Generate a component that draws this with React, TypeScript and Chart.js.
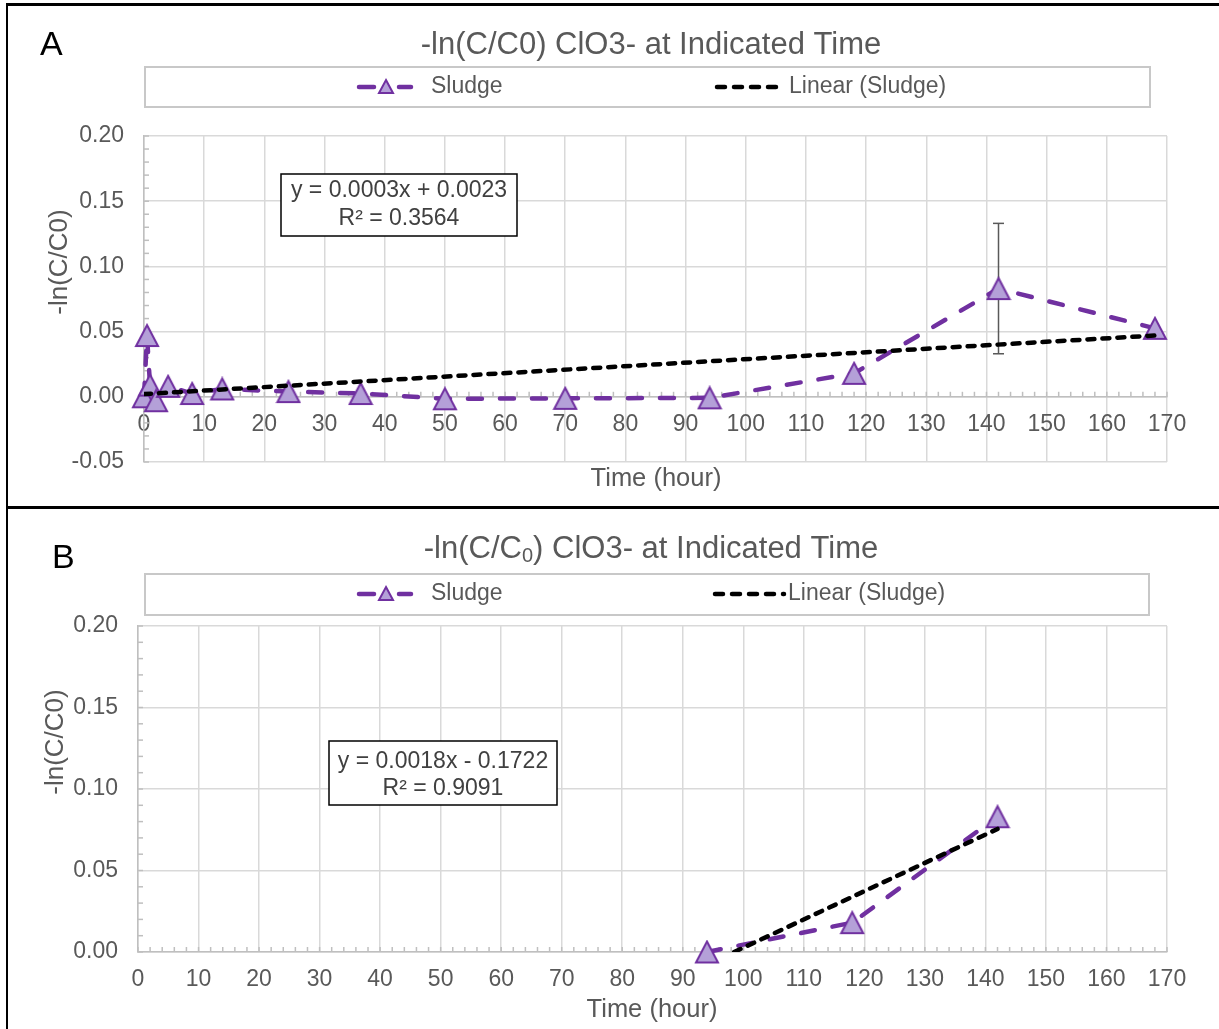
import React, { useEffect, useRef } from "react";
import { Chart, registerables } from "chart.js";

Chart.register(...registerables);

const FONT = '"Liberation Sans", Arial, Helvetica, sans-serif';
const INK = "#595959";
const PURPLE = "#7030A0";
const LILAC = "#B4A0D8";
const GRID = "#d9d9d9";
const AXIS = "#bfbfbf";

// ---------- Panel A data ----------
const timeA = [0, 0.5, 1, 2, 4, 8, 13, 24, 36, 50, 70, 94, 118, 142, 168];
const sludgeA = [0, 0.047, 0.009, -0.003, 0.008, 0.0025, 0.006, 0.004, 0.0025, -0.0015, -0.0012, -0.0008, 0.018, 0.083, 0.0525];
const errA = [0, 0, 0, 0, 0, 0, 0, 0, 0, 0, 0, 0, 0, 0.05, 0];
const trendTimeA = [0, 168];
const trendA = [0.0021, 0.047];
const eqA = ["y = 0.0003x + 0.0023", "R\u00B2 = 0.3564"];
const yTicksA = [-0.05, 0.0, 0.05, 0.1, 0.15, 0.2];

// ---------- Panel B data ----------
const timeB = [94, 118, 142];
const sludgeB = [0, 0.018, 0.083];
const errB = [0, 0, 0];
const trendTimeB = [94, 142];
const trendB = [-0.0078, 0.0755];
const eqB = ["y = 0.0018x - 0.1722", "R\u00B2 = 0.9091"];
const yTicksB = [0.0, 0.05, 0.1, 0.15, 0.2];

const xTicks = [0, 10, 20, 30, 40, 50, 60, 70, 80, 90, 100, 110, 120, 130, 140, 150, 160, 170];

const seriesName = "Sludge";
const trendName = "Linear (Sludge)";
const xTitle = "Time (hour)";
const yTitle = "-ln(C/C0)";

function makeTriangle(w: number, h: number, lw: number) {
  const c = document.createElement("canvas");
  c.width = Math.round(w + lw * 2);
  c.height = Math.round(h + lw * 2);
  const ctx = c.getContext("2d")!;
  ctx.beginPath();
  ctx.moveTo(c.width / 2, lw);
  ctx.lineTo(c.width - lw, c.height - lw);
  ctx.lineTo(lw, c.height - lw);
  ctx.closePath();
  ctx.fillStyle = LILAC;
  ctx.fill();
  ctx.lineWidth = lw;
  ctx.strokeStyle = PURPLE;
  ctx.lineJoin = "miter";
  ctx.stroke();
  return c;
}

type TitlePart = { text: string; sub?: boolean };
type Layout = {
  letter: string; letterX: number; letterY: number;
  title: TitlePart[]; titleX: number; titleY: number;
  legBox: [number, number, number, number]; legY: number;
  s1: [number, number]; s1Text: number; s2: [number, number]; s2Text: number;
  yTitleX: number; yTitleY: number; xTitleX: number; xTitleY: number;
  eqBox: [number, number, number, number]; eqLines: string[]; eqY: [number, number];
  padTop: number; padRight: number; padBottom: number; yAxisW: number;
  yMin: number; yMax: number; yTicks: number[];
};

function decorPlugin(L: Layout, times: number[], vals: number[], errs: number[]) {
  const line = (ctx: CanvasRenderingContext2D, a: number, b: number, c: number, d: number) => {
    ctx.beginPath();
    ctx.moveTo(a, b);
    ctx.lineTo(c, d);
    ctx.stroke();
  };
  return {
    id: "decor",
    beforeDatasetsDraw(chart: any) {
      const ctx: CanvasRenderingContext2D = chart.ctx;
      const xs = chart.scales.x;
      const ys = chart.scales.y;
      ctx.save();
      ctx.strokeStyle = AXIS;
      ctx.lineWidth = 1.5;
      const y0 = ys.getPixelForValue(0);
      for (let v = 0; v <= 170; v += 2) {
        const px = xs.getPixelForValue(v);
        line(ctx, px, y0, px, y0 - 5);
      }
      const x0 = xs.getPixelForValue(0);
      for (let k = Math.round(L.yMin * 100); k <= Math.round(L.yMax * 100); k++) {
        const py = ys.getPixelForValue(k / 100);
        line(ctx, x0, py, x0 + 5, py);
      }
      ctx.strokeStyle = INK;
      ctx.lineWidth = 1.5;
      times.forEach((t, i) => {
        const e = errs[i];
        if (!e) return;
        const px = xs.getPixelForValue(t);
        const top = ys.getPixelForValue(vals[i] + e);
        const bot = ys.getPixelForValue(vals[i] - e);
        line(ctx, px, top, px, bot);
        line(ctx, px - 5.5, top, px + 5.5, top);
        line(ctx, px - 5.5, bot, px + 5.5, bot);
      });
      ctx.restore();
    },
    afterDraw(chart: any) {
      const ctx: CanvasRenderingContext2D = chart.ctx;
      ctx.save();
      // panel letter
      ctx.fillStyle = "#000";
      ctx.font = `34px ${FONT}`;
      ctx.textAlign = "left";
      ctx.textBaseline = "middle";
      ctx.fillText(L.letter, L.letterX, L.letterY);
      // title with optional subscript
      const big = `31px ${FONT}`;
      const small = `20px ${FONT}`;
      let total = 0;
      for (const p of L.title) {
        ctx.font = p.sub ? small : big;
        total += ctx.measureText(p.text).width;
      }
      let cx = L.titleX - total / 2;
      ctx.fillStyle = INK;
      for (const p of L.title) {
        ctx.font = p.sub ? small : big;
        ctx.fillText(p.text, cx, L.titleY + (p.sub ? 7 : 0));
        cx += ctx.measureText(p.text).width;
      }
      // legend box
      ctx.strokeStyle = "#c8c8c8";
      ctx.lineWidth = 2;
      const [bx1, by1, bx2, by2] = L.legBox;
      ctx.strokeRect(bx1, by1, bx2 - bx1, by2 - by1);
      // sludge sample
      ctx.strokeStyle = PURPLE;
      ctx.lineWidth = 4.5;
      ctx.lineCap = "round";
      line(ctx, L.s1[0] + 2, L.legY, L.s1[0] + 17, L.legY);
      line(ctx, L.s1[1] - 14, L.legY, L.s1[1] - 2, L.legY);
      const mid = (L.s1[0] + L.s1[1]) / 2 + 1;
      ctx.beginPath();
      ctx.moveTo(mid, L.legY - 7);
      ctx.lineTo(mid + 7, L.legY + 6);
      ctx.lineTo(mid - 7, L.legY + 6);
      ctx.closePath();
      ctx.fillStyle = LILAC;
      ctx.fill();
      ctx.lineWidth = 2;
      ctx.lineCap = "butt";
      ctx.stroke();
      // trend sample
      ctx.strokeStyle = "#000";
      ctx.lineWidth = 4.5;
      ctx.lineCap = "round";
      ctx.setLineDash([8, 9]);
      line(ctx, L.s2[0] + 2, L.legY, L.s2[1] - 2, L.legY);
      ctx.setLineDash([]);
      ctx.lineCap = "butt";
      ctx.font = `23px ${FONT}`;
      ctx.fillStyle = INK;
      ctx.textBaseline = "middle";
      ctx.fillText(seriesName, L.s1Text, L.legY);
      ctx.fillText(trendName, L.s2Text, L.legY);
      // axis titles
      ctx.font = `25.5px ${FONT}`;
      ctx.textAlign = "center";
      ctx.fillText(xTitle, L.xTitleX, L.xTitleY);
      ctx.save();
      ctx.translate(L.yTitleX, L.yTitleY);
      ctx.rotate(-Math.PI / 2);
      ctx.font = `26px ${FONT}`;
      ctx.fillText(yTitle, 0, 0);
      ctx.restore();
      // equation box
      const [ex1, ey1, ex2, ey2] = L.eqBox;
      ctx.fillStyle = "#fff";
      ctx.fillRect(ex1, ey1, ex2 - ex1, ey2 - ey1);
      ctx.strokeStyle = "#000";
      ctx.lineWidth = 1.5;
      ctx.strokeRect(ex1, ey1, ex2 - ex1, ey2 - ey1);
      ctx.fillStyle = "#404040";
      ctx.font = `23px ${FONT}`;
      ctx.fillText(L.eqLines[0], (ex1 + ex2) / 2, L.eqY[0]);
      ctx.fillText(L.eqLines[1], (ex1 + ex2) / 2, L.eqY[1]);
      ctx.restore();
    },
  };
}

function makeConfig(L: Layout, times: number[], vals: number[], errs: number[], tT: number[], tV: number[], marker: HTMLCanvasElement) {
  return {
    type: "scatter" as const,
    data: {
      datasets: [
        {
          label: trendName,
          data: tT.map((t, i) => ({ x: t, y: tV[i] })),
          showLine: true,
          borderColor: "#000",
          borderWidth: 4.5,
          borderDash: [7, 8],
          borderCapStyle: "round",
          pointRadius: 0,
          clip: 0,
        },
        {
          label: seriesName,
          data: times.map((t, i) => ({ x: t, y: vals[i] })),
          showLine: true,
          borderColor: PURPLE,
          borderWidth: 4.5,
          borderDash: [14, 18],
          borderCapStyle: "round",
          pointStyle: marker,
          pointRadius: 12,
          clip: false,
        },
      ],
    },
    options: {
      animation: false,
      responsive: false,
      devicePixelRatio: 1,
      events: [],
      layout: { padding: { top: L.padTop, right: L.padRight, bottom: L.padBottom, left: 0 } },
      plugins: { legend: { display: false }, title: { display: false }, tooltip: { enabled: false } },
      scales: {
        x: {
          type: "linear",
          position: { y: 0 },
          min: 0,
          max: 170,
          afterBuildTicks: (s: any) => {
            s.ticks = xTicks.map((v) => ({ value: v }));
          },
          ticks: {
            color: INK,
            font: { family: FONT, size: 23 },
            padding: 14,
            maxRotation: 0,
            autoSkip: false,
            callback: (v: any) => String(v),
          },
          grid: { color: GRID, lineWidth: 1.5, drawTicks: false },
          border: { color: AXIS, width: 1.5 },
        },
        y: {
          type: "linear",
          position: "left",
          min: L.yMin,
          max: L.yMax,
          afterBuildTicks: (s: any) => {
            s.ticks = L.yTicks.map((v) => ({ value: v }));
          },
          afterFit: (s: any) => {
            s.width = L.yAxisW;
          },
          ticks: {
            color: INK,
            font: { family: FONT, size: 23 },
            padding: 20,
            callback: (v: any) => Number(v).toFixed(2),
          },
          grid: { color: GRID, lineWidth: 1.5, drawTicks: false },
          border: { color: AXIS, width: 1.5 },
        },
      },
    },
    plugins: [decorPlugin(L, times, vals, errs)],
  };
}

const layoutA: Layout = {
  letter: "A", letterX: 32, letterY: 40,
  title: [{ text: "-ln(C/C0) ClO3- at Indicated Time" }], titleX: 643, titleY: 39,
  legBox: [137, 61, 1142, 101], legY: 81,
  s1: [349, 405], s1Text: 423, s2: [707, 779], s2Text: 781,
  yTitleX: 52, yTitleY: 256, xTitleX: 648, xTitleY: 473,
  eqBox: [273, 168, 509, 230], eqLines: eqA, eqY: [185, 213],
  padTop: 130, padRight: 52, padBottom: 44, yAxisW: 136,
  yMin: -0.05, yMax: 0.2, yTicks: yTicksA,
};

const layoutB: Layout = {
  letter: "B", letterX: 44, letterY: 50,
  title: [{ text: "-ln(C/C" }, { text: "0", sub: true }, { text: ") ClO3- at Indicated Time" }], titleX: 643, titleY: 40,
  legBox: [137, 65, 1141, 106], legY: 85,
  s1: [349, 405], s1Text: 423, s2: [705, 778], s2Text: 780,
  yTitleX: 48, yTitleY: 233, xTitleX: 644, xTitleY: 501,
  eqBox: [321, 232, 549, 296], eqLines: eqB, eqY: [253, 280],
  padTop: 117, padRight: 52, padBottom: 77, yAxisW: 130,
  yMin: 0, yMax: 0.2, yTicks: yTicksB,
};

function Panel({ L, times, vals, errs, tT, tV, top }: any) {
  const ref = useRef<HTMLCanvasElement>(null);
  useEffect(() => {
    const marker = makeTriangle(22, 21, 2);
    const chart = new Chart(ref.current!, makeConfig(L, times, vals, errs, tT, tV, marker) as any);
    return () => chart.destroy();
  }, []);
  return (
    <canvas
      ref={ref}
      width={1211}
      height={L === layoutA ? 500 : 520}
      style={{ position: "absolute", left: 8, top, width: 1211, height: L === layoutA ? 500 : 520 }}
    />
  );
}

export default function App() {
  return (
    <div style={{ position: "absolute", left: 0, top: 0, width: 1219, height: 1029, background: "#fff", overflow: "hidden" }}>
      <Panel L={layoutA} times={timeA} vals={sludgeA} errs={errA} tT={trendTimeA} tV={trendA} top={6} />
      <Panel L={layoutB} times={timeB} vals={sludgeB} errs={errB} tT={trendTimeB} tV={trendB} top={509} />
      <div style={{ position: "absolute", left: 6, top: 3, width: 1213, height: 3, background: "#000" }} />
      <div style={{ position: "absolute", left: 6, top: 3, width: 2, height: 1026, background: "#000" }} />
      <div style={{ position: "absolute", left: 6, top: 506, width: 1213, height: 3, background: "#000" }} />
    </div>
  );
}
